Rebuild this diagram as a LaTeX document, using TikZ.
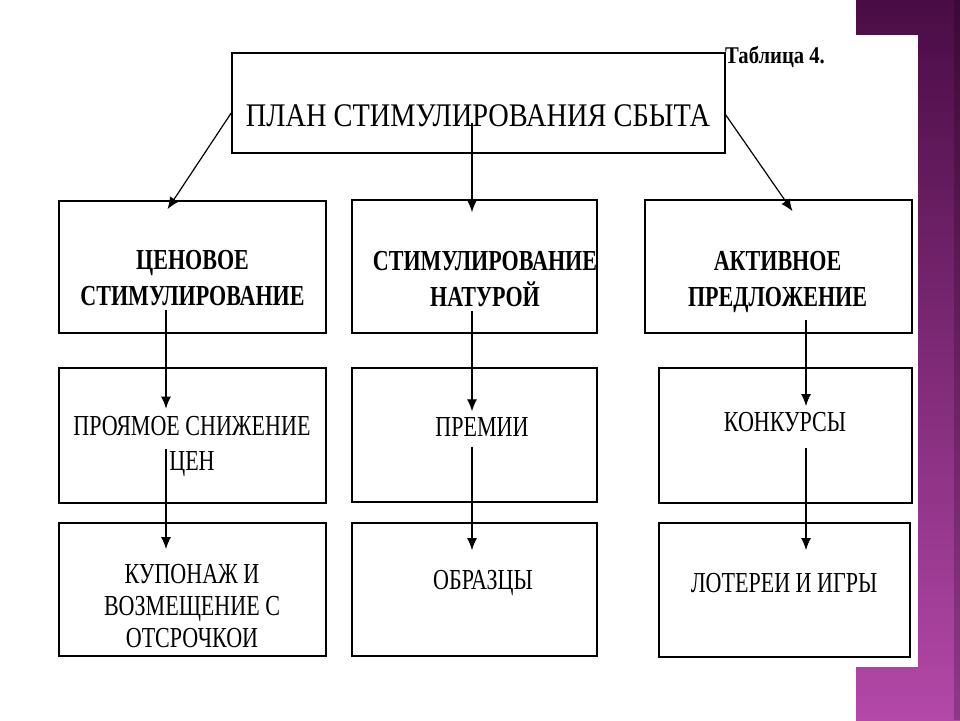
\documentclass[tikz,border=0pt]{standalone}
\usepackage{fontspec}
\setmainfont{Liberation Serif}
\newfontfamily\boxfont[FakeStretch=0.76]{Liberation Serif}
\newfontfamily\headfont[FakeStretch=0.86]{Liberation Serif}
\usetikzlibrary{arrows.meta, calc}
\definecolor{plumtop}{HTML}{4A0C45}
\definecolor{plummid}{HTML}{7C2B72}
\definecolor{plumbot}{HTML}{B348A8}

\begin{document}
\begin{tikzpicture}
	[x=1pt, y=-1pt, >={Latex[length=12pt,width=10pt]},
	 cell/.style={draw, line width=1.6pt, inner sep=0pt},
	 caption/.style={align=center, inner sep=4pt, font=\boxfont\fontsize{29}{35}\selectfont},
	 head/.style={caption, font=\boxfont\bfseries\fontsize{29}{36}\selectfont},
	 link/.style={->, line width=1.2pt}]
	\fill[white] (0,0) rectangle (960,720);
	\shade[top color=plumtop, middle color=plummid, bottom color=plumbot] (856,0) rectangle (960,720);
	\fill[black, opacity=0.2] (954,0) rectangle (960,720);
	\fill[white] (856,35) rectangle (918,667);

	\foreach \n/\x/\y/\w/\h in {plan/478.5/103/493/100,
		boxL1/192.5/267/267/132, boxM1/474.5/266.5/245/133, boxR1/778.5/266.5/267/133,
		boxL2/192.5/435.5/267/135, boxM2/474.5/435/245/134, boxR2/785.5/435.5/253/135,
		boxL3/192.5/589.5/267/133, boxM3/474.5/589.5/245/133, boxR3/784.5/590/251/134}
	\node[cell, minimum width=\w, minimum height=\h] (\n) at (\x,\y) {};

	\node[font=\headfont\fontsize{33}{40}\selectfont] (title) at (478,116) {ПЛАН СТИМУЛИРОВАНИЯ СБЫТА};
	\node[font=\headfont\bfseries\fontsize{24}{28}\selectfont, anchor=west, inner sep=0pt] (tab) at (725,57) {Таблица 4.};

	\node[head] (capL1) at (192.5,278) {ЦЕНОВОЕ\\СТИМУЛИРОВАНИЕ};
	\node[head] (capM1) at (485,279) {СТИМУЛИРОВАНИЕ\\НАТУРОЙ};
	\node[head] (capR1) at (777.5,282) {АКТИВНОЕ\\ПРЕДЛОЖЕНИЕ};
	\node[caption] (capL2) at (192,446) {ПРОЯМОЕ СНИЖЕНИЕ\\ЦЕН};
	\node[caption] (capM2) at (482,427) {ПРЕМИИ};
	\node[caption] (capR2) at (785,422) {КОНКУРСЫ};
	\node[caption, font=\boxfont\fontsize{29}{32}\selectfont] (capL3) at (192,606) {КУПОНАЖ И\\ВОЗМЕЩЕНИЕ С\\ОТСРОЧКОИ};
	\node[caption] (capM3) at (483,583) {ОБРАЗЦЫ};
	\node[caption] (capR3) at (784,583) {ЛОТЕРЕИ И ИГРЫ};

	\coordinate (colL) at (166,0);
	\coordinate (colM) at (472,0);
	\coordinate (colR) at (806,0);

	\draw[link] ([yshift=-10pt]plan.west) -- ([xshift=-25pt,yshift=-9pt]boxL1.north);
	\draw[link, shorten <=-8pt, shorten >=-13pt] (title.south -| colM) -- (boxM1.north -| colM);
	\draw[link] ([yshift=-12pt]plan.east) -- ([xshift=14pt,yshift=-12pt]boxR1.north);

	\foreach \from/\to/\col/\a/\b in {capL1/capL2/colL/0/3, capL2/capL3/colL/-31/11,
		capM1/capM2/colM/0/2, capM2/capM3/colM/6/16,
		capR1/capR2/colR/3/2, capR2/capR3/colR/12/19}
	\draw[link, shorten <=\a pt, shorten >=\b pt] (\from.south -| \col) -- (\to.north -| \col);
\end{tikzpicture}
\end{document}
